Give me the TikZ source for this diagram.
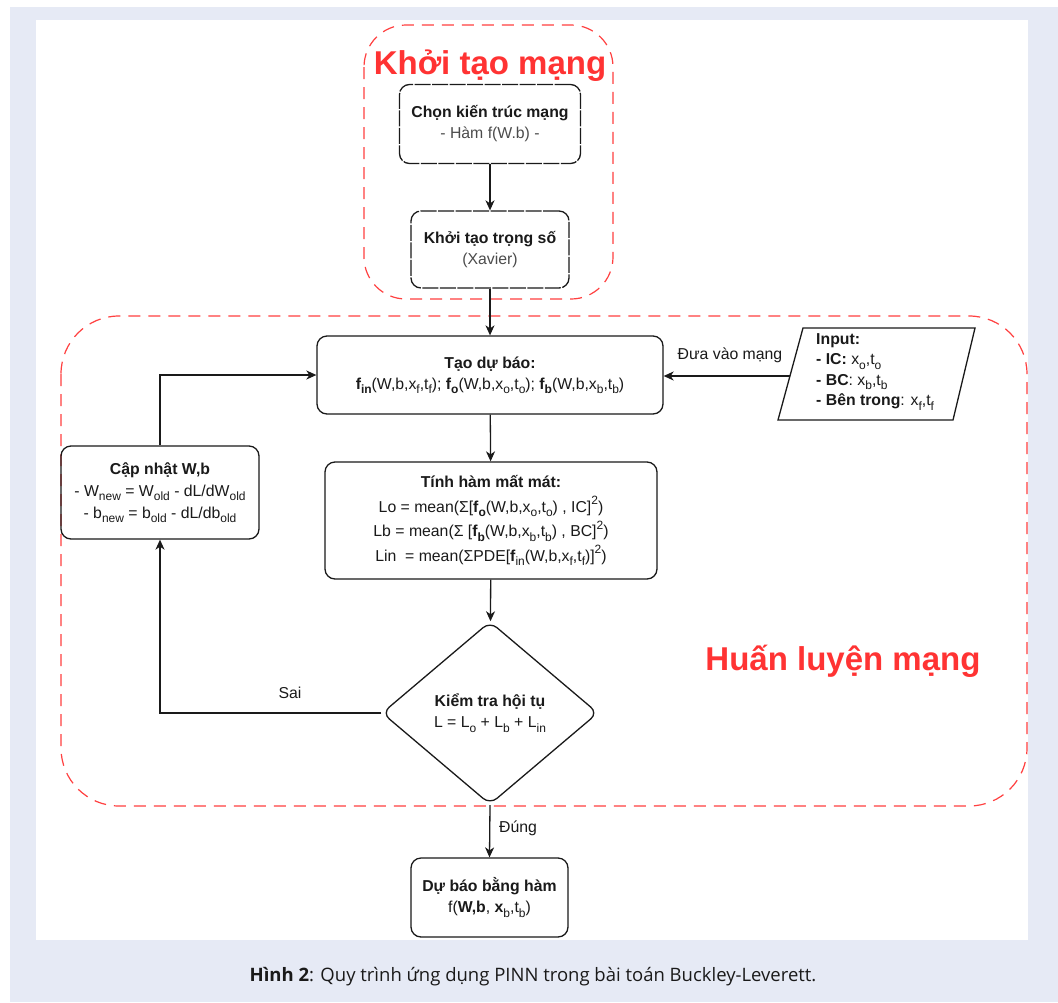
\documentclass[tikz,border=0pt]{standalone}
\usepackage{fontspec}
\setmainfont{Liberation Sans}
\newfontfamily\capfont{Open Sans}
\usetikzlibrary{shapes.geometric,arrows.meta}
\newcommand\fsz[2]{\fontsize{#1}{#2}\selectfont}
\newcommand\sbs[1]{\raisebox{-0.28em}{\fsz{12}{12}#1}}
\newcommand\sps[1]{\raisebox{0.48em}{\fsz{12}{12}#1}}
\definecolor{regred}{RGB}{255,64,64}
\definecolor{ttlred}{RGB}{255,51,51}
\definecolor{bgblue}{RGB}{230,234,245}
\definecolor{ink}{RGB}{26,26,26}
\tikzset{
  box/.style={draw=ink, line width=1.3pt, rounded corners=10pt, align=center,
    font=\fsz{15.8}{21}, text=ink, inner sep=0pt},
  dbox/.style={box, dash pattern=on 16pt off 1.5pt},
  arr/.style={draw=ink, line width=1.3pt, -{Stealth[length=10pt,width=9pt,inset=3pt]}},
  region/.style={draw=regred, line width=1.2pt, dash pattern=on 12pt off 8pt},
  lbl/.style={font=\fsz{15.8}{18}, text=ink, inner sep=0pt},
  ttl/.style={font=\fsz{33}{38}\bfseries, text=ttlred, inner sep=0pt},
}
\begin{document}
\begin{tikzpicture}[x=1pt,y=-1pt]
\useasboundingbox (0,0) rectangle (1058,1002);
\fill[white] (0,0) rectangle (1058,1002);
\fill[bgblue] (10,7) rectangle (1058,1002);
\fill[white] (36,20) rectangle (1028,940);

% regions
\draw[region, rounded corners=42pt] (364,25) rectangle (613,299);
\draw[region, rounded corners=58pt] (61,316) rectangle (1027,806);
\node[ttl] (t1) at (490,66) {Khởi tạo mạng};
\node[ttl] (t2) at (843,661) {Huấn luyện mạng};

% boxes
\node[dbox, minimum width=181pt, minimum height=79pt] (b1) at (490,124)
  {\textbf{Chọn kiến trúc mạng}\\ \textcolor{black!70}{- Hàm f(W.b) -}};
\node[dbox, minimum width=158pt, minimum height=77pt] (b2) at (490,249.5)
  {\textbf{Khởi tạo trọng số}\\ \textcolor{black!70}{(Xavier)}};
\node[box, minimum width=346pt, minimum height=78pt] (b3) at (490,375)
  {\textbf{Tạo dự báo:}\\
   \textbf{f\sbs{in}}(W,b,x\sbs{f},t\sbs{f}); \textbf{f\sbs{o}}(W,b,x\sbs{o},t\sbs{o}); \textbf{f\sbs{b}}(W,b,x\sbs{b},t\sbs{b})};
\node[box, minimum width=332pt, minimum height=117pt, font=\fsz{15.8}{24.5}] (b4) at (491,520.5)
  {\textbf{Tính hàm mất mát:}\\
   Lo = mean(Σ[\textbf{f\sbs{o}}(W,b,x\sbs{o},t\sbs{o}) , IC]\sps{2})\\
   Lb = mean(Σ [\textbf{f\sbs{b}}(W,b,x\sbs{b},t\sbs{b}) , BC]\sps{2})\\
   Lin~ = mean(ΣPDE[\textbf{f}\sbs{in}(W,b,x\sbs{f},t\sbs{f})]\sps{2})};
\node[box, minimum width=198pt, minimum height=93pt, font=\fsz{15.8}{22}] (upd) at (160,492.5)
  {\textbf{Cập nhật W,b}\\
   - W\sbs{new} = W\sbs{old} - dL/dW\sbs{old}\\
   - b\sbs{new} = b\sbs{old} - dL/db\sbs{old}};
\node[draw=ink, line width=1.3pt, diamond, rounded corners=9pt, minimum width=216pt,
  minimum height=183pt, shape aspect=1.18, inner sep=0pt, align=center,
  font=\fsz{15.8}{21}, text=ink] (dia) at (490,713)
  {\textbf{Kiểm tra hội tụ}\\ L = L\sbs{o} + L\sbs{b} + L\sbs{in}};
\node[box, minimum width=157pt, minimum height=79pt] (b5) at (489.5,897.5)
  {\textbf{Dự báo bằng hàm}\\ f(\textbf{W,b}, \textbf{x}\sbs{b},t\sbs{b})};

% input parallelogram
\draw[draw=ink, line width=1.3pt] (803,328) -- (975,328) -- (953,420) -- (778,420) -- cycle;
\node[lbl, anchor=west, align=left, font=\fsz{15.8}{20.5}] (inp) at (816,372)
  {\textbf{Input:}\\
   \textbf{- IC:} x\sbs{o},t\sbs{o}\\
   \textbf{- BC}: x\sbs{b},t\sbs{b}\\
   \textbf{- Bên trong}: x\sbs{f},t\sbs{f}};
\coordinate (inL) at (790,376);

% connectors
\draw[arr] (b1) -- (b2);
\draw[arr] (b2) -- (b3);
\draw[arr] (inL) -- (inL -| b3.east);
\node[lbl] (lin) at (730,355) {Đưa vào mạng};
\draw[arr] (b3) -- (b4);
\draw[arr] (b4) -- (dia);
\draw[arr] (dia.west) -- (dia.west -| upd.south) -- (upd.south);
\node[lbl] (lsai) at (290,693) {Sai};
\draw[arr] (upd.north) |- (b3.west);
\draw[arr] (dia.south) -- (b5.north);
\node[lbl] (ldung) at (518,828) {Đúng};

% caption
\node[inner sep=0pt, font=\capfont\fsz{18.5}{22}, text=ink] (cap) at (533,977)
  {\textbf{Hình 2}: Quy trình ứng dụng PINN trong bài toán Buckley-Leverett.};
\end{tikzpicture}
\end{document}
